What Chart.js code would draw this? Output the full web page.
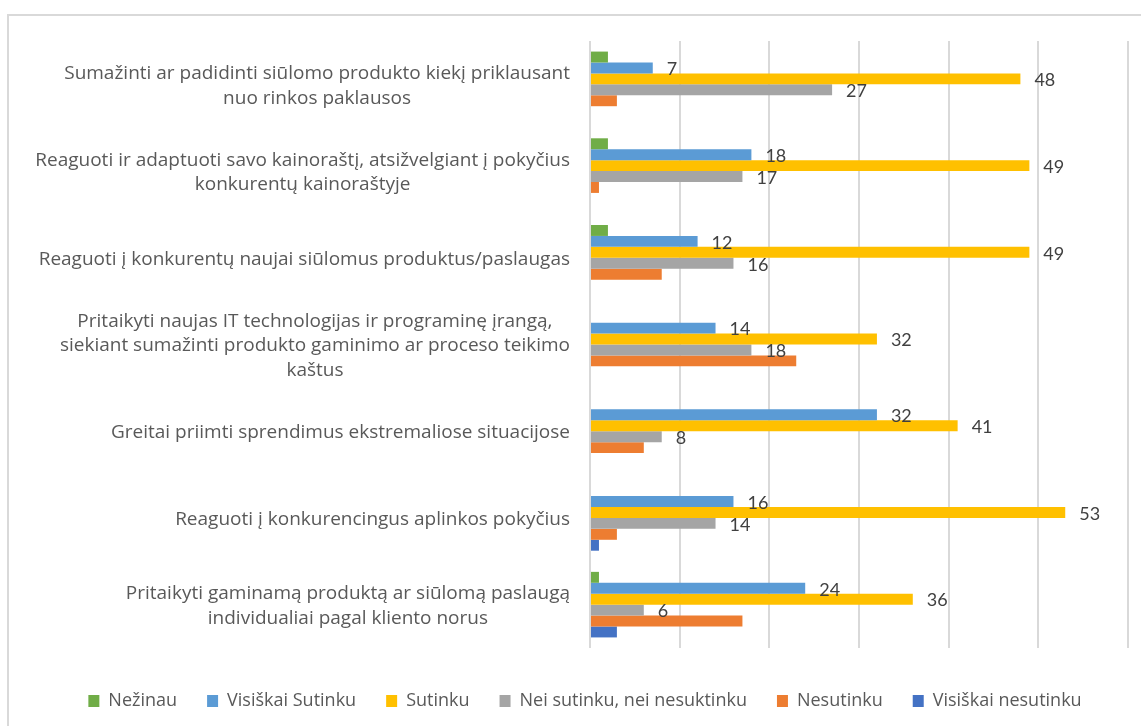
<!DOCTYPE html>
<html>
<head>
<meta charset="utf-8">
<script src="https://cdn.jsdelivr.net/npm/chart.js@4.4.1/dist/chart.umd.min.js"></script>
<style>
  html, body { margin: 0; padding: 0; background: #fff; }
  #frame {
    position: absolute; left: 7px; top: 14px; right: 0; bottom: 0;
    border-left: 2px solid #D9D9D9; border-top: 2px solid #D9D9D9;
  }
  #wrap { position: absolute; left: 0; top: 0; width: 1141px; height: 726px; }
</style>
</head>
<body>
<div id="frame"></div>
<div id="wrap"><canvas id="chart" width="1141" height="726"></canvas></div>
<script>
// Category labels, one array entry per line
var categories = [
  ['Sumažinti ar padidinti siūlomo produkto kiekį priklausant', 'nuo rinkos paklausos'],
  ['Reaguoti ir adaptuoti savo kainoraštį, atsižvelgiant į pokyčius', 'konkurentų kainoraštyje'],
  ['Reaguoti į konkurentų naujai siūlomus produktus/paslaugas'],
  ['Pritaikyti naujas IT technologijas ir programinę įrangą,', 'siekiant sumažinti produkto gaminimo ar proceso teikimo', 'kaštus'],
  ['Greitai priimti sprendimus ekstremaliose situacijose'],
  ['Reaguoti į konkurencingus aplinkos pokyčius'],
  ['Pritaikyti gaminamą produktą ar siūlomą paslaugą', 'individualiai pagal kliento norus']
];

var seriesNames = ['Nežinau', 'Visiškai Sutinku', 'Sutinku', 'Nei sutinku, nei nesuktinku', 'Nesutinku', 'Visiškai nesutinku'];
var seriesColors = ['#70AD47', '#5B9BD5', '#FFC000', '#A5A5A5', '#ED7D31', '#4472C4'];

var nezinau           = [2, 2, 2, 0, 0, 0, 1];
var visiskaiSutinku   = [7, 18, 12, 14, 32, 16, 24];
var sutinku           = [48, 49, 49, 32, 41, 53, 36];
var neiSutinku        = [27, 17, 16, 18, 8, 14, 6];
var nesutinku         = [3, 1, 8, 23, 6, 3, 17];
var visiskaiNesutinku = [0, 0, 0, 0, 0, 1, 3];

var seriesValues = [nezinau, visiskaiSutinku, sutinku, neiSutinku, nesutinku, visiskaiNesutinku];

// only these series carry value labels
var labelledSeries = [1, 2, 3];

var xMin = 0, xMax = 60, xStep = 10;

var LABEL_FONT = '"Open Sans", Lato, sans-serif';
var VALUE_FONT = 'Lato, "Open Sans", sans-serif';

/**
 * Multi-line category labels: block right-aligned to the plot, lines centred in the block
 */
var categoryLabels = {
  id: 'categoryLabels',
  afterDraw: function(chart) {
    var ctx = chart.ctx;
    var yScale = chart.scales.y;
    ctx.save();
    ctx.font = '19px ' + LABEL_FONT;
    ctx.fillStyle = '#595959';
    ctx.textAlign = 'center';
    ctx.textBaseline = 'middle';
    categories.forEach(function(lines, i) {
      var widest = Math.max.apply(null, lines.map(function(l) { return ctx.measureText(l).width; }));
      var cx = chart.chartArea.left - 20 - widest / 2;
      var cy = yScale.getPixelForTick(i) + 1.5;
      lines.forEach(function(line, k) {
        ctx.fillText(line, cx, cy + (k - (lines.length - 1) / 2) * 24.5);
      });
    });
    ctx.restore();
  }
};

/**
 * Value labels just past the end of each bar
 */
var barValues = {
  id: 'barValues',
  afterDatasetsDraw: function(chart) {
    var ctx = chart.ctx;
    ctx.save();
    ctx.font = '18px ' + VALUE_FONT;
    ctx.fillStyle = '#404040';
    ctx.textAlign = 'left';
    ctx.textBaseline = 'middle';
    labelledSeries.forEach(function(di) {
      var meta = chart.getDatasetMeta(di);
      meta.data.forEach(function(bar, i) {
        var v = chart.data.datasets[di].data[i];
        if (!v) return;
        ctx.fillText(String(v), bar.x + 14, bar.y + 1.5);
      });
    });
    ctx.restore();
  }
};

var datasets = seriesNames.map(function(name, i) {
  return {
    label: name,
    data: seriesValues[i],
    backgroundColor: seriesColors[i],
    borderWidth: 0,
    categoryPercentage: 0.756,
    barPercentage: 1.0
  };
});

new Chart(document.getElementById('chart'), {
  type: 'bar',
  data: {
    labels: categories.map(function(c) { return c.join(' '); }),
    datasets: datasets
  },
  plugins: [categoryLabels, barValues],
  options: {
    indexAxis: 'y',
    responsive: false,
    animation: false,
    layout: { padding: { left: 42, right: 13, top: 41, bottom: 6 } },
    plugins: {
      legend: {
        position: 'bottom',
        labels: {
          color: '#595959',
          font: { size: 18, family: LABEL_FONT },
          boxWidth: 11,
          boxHeight: 12,
          padding: 30
        }
      },
      tooltip: { enabled: false }
    },
    scales: {
      x: {
        min: xMin,
        max: xMax,
        ticks: { display: false, stepSize: xStep },
        grid: { color: '#D9D9D9', lineWidth: 2, drawTicks: false },
        border: { display: false },
        afterFit: function(scale) { scale.height = 14; }
      },
      y: {
        ticks: { display: false },
        grid: { display: false, drawTicks: false },
        border: { display: false },
        afterFit: function(scale) { scale.width = 548; }
      }
    }
  }
});
</script>
</body>
</html>
